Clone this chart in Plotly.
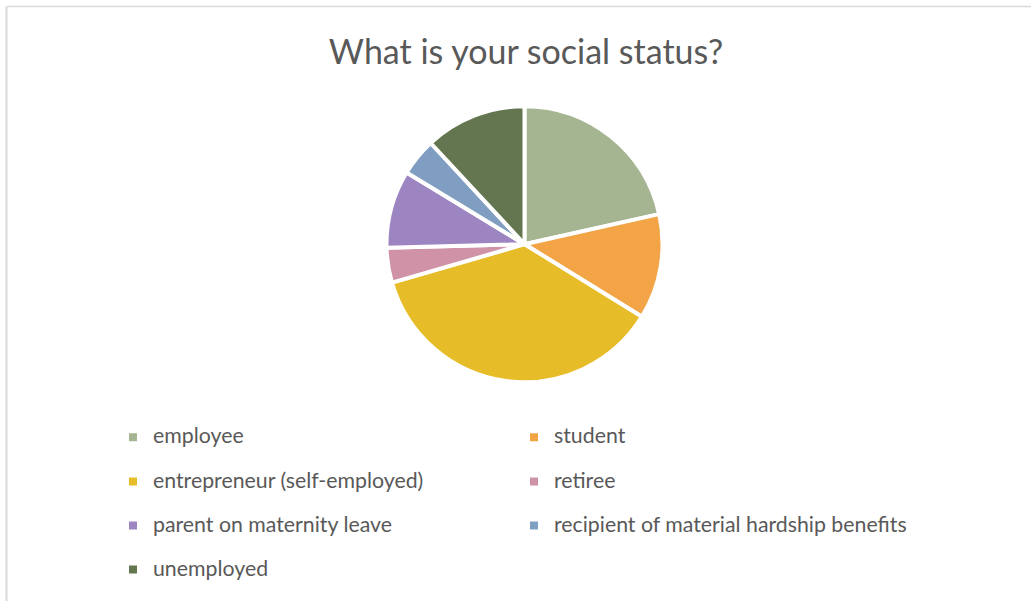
import plotly.graph_objects as go

# Survey answers: share of respondents (%) per social status
categories = [
    "employee",
    "student",
    "entrepreneur (self-employed)",
    "retiree",
    "parent on maternity leave",
    "recipient of material hardship benefits",
    "unemployed",
]
shares = [21.5, 12.3, 36.7, 4.1, 9.1, 4.4, 11.9]
colors = ["#A5B592", "#F3A447", "#E7BC29", "#D092A7", "#9C85C0", "#809EC2", "#637650"]

W, H = 1031, 601

# Legend rows are taller than the label text: each label gets a blank line
# above it, and the symbol is aligned with the label line.
legend_labels = [f'&nbsp;<br><span style="font-size:21.3px">{c}</span>' for c in categories]

# Pie placement in pixels
cx, cy, r = 524.5, 244.2, 138.0

fig = go.Figure(
    go.Pie(
        labels=legend_labels,
        values=shares,
        sort=False,
        direction="clockwise",
        rotation=0,
        textinfo="none",
        hoverinfo="percent",
        marker=dict(colors=colors, line=dict(color="#FFFFFF", width=4)),
        domain=dict(
            x=[(cx - r) / W, (cx + r) / W],
            y=[1 - (cy + r) / H, 1 - (cy - r) / H],
        ),
    )
)

fig.update_layout(
    width=W,
    height=H,
    margin=dict(l=0, r=0, t=0, b=0),
    paper_bgcolor="#FFFFFF",
    font=dict(family="Lato, 'Open Sans', sans-serif", color="#595959"),
    title=dict(
        text="What is your social status?",
        font=dict(family="Lato, sans-serif", size=34, color="#595959"),
        x=526 / W,
        xanchor="center",
        xref="paper",
        y=1 - 52 / H,
        yanchor="middle",
        yref="container",
    ),
    showlegend=True,
    legend=dict(
        orientation="h",
        x=113 / W,
        xanchor="left",
        y=1 - 400 / H,
        yanchor="top",
        entrywidth=356,
        entrywidthmode="pixels",
        valign="bottom",
        font=dict(family="Lato, sans-serif", size=15.8, color="#595959"),
        bgcolor="rgba(0,0,0,0)",
    ),
    shapes=[
        # thin frame round the chart area (top and left edges)
        dict(type="line", xref="paper", yref="paper",
             x0=6.5 / W, x1=1, y0=1 - 6.5 / H, y1=1 - 6.5 / H,
             line=dict(color="#D9D9D9", width=1.5)),
        dict(type="line", xref="paper", yref="paper",
             x0=6.5 / W, x1=6.5 / W, y0=0, y1=1 - 6.5 / H,
             line=dict(color="#D9D9D9", width=2)),
    ],
)

fig.write_html("out.html")
